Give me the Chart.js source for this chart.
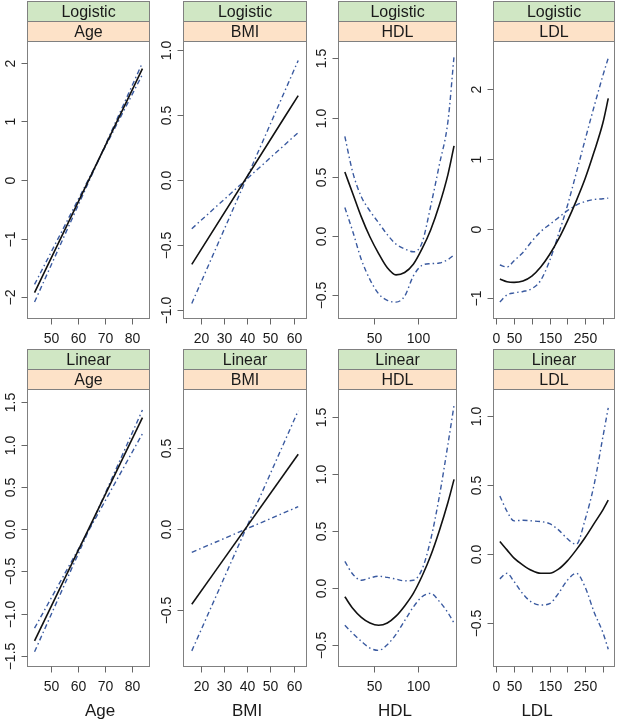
<!DOCTYPE html>
<html>
<head>
<meta charset="utf-8">
<script src="https://cdn.jsdelivr.net/npm/chart.js@4.4.1/dist/chart.umd.min.js"></script>
<style>
  body { margin: 0; background: #fff; }
  #page { position: relative; width: 619px; height: 726px; overflow: hidden; font-family: "Liberation Sans", Arial, sans-serif; }
  .panel { position: absolute; }
  .xtitle { position: absolute; top: 701px; font-size: 17px; color: #1a1a1a; transform: translateX(-50%); white-space: nowrap; }
</style>
</head>
<body>
<div id="page"></div>
<script>
// ---- data ----
const modelNames = ["Logistic", "Linear"];
const variableNames = ["Age", "BMI", "HDL", "LDL"];

const ageX = [44, 84];
const logitAgeFit = [-1.92, 1.90];
const logitAgeBandA = [-2.08, 2.00];
const logitAgeBandB = [-1.78, 1.80];
const linAgeFit = [-1.32, 1.32];
const linAgeBandA = [-1.45, 1.41];
const linAgeBandB = [-1.17, 1.13];

const bmiX = [16, 62];
const logitBmiFit = [-0.65, 0.65];
const logitBmiBandA = [-0.95, 0.92];
const logitBmiBandB = [-0.375, 0.365];
const linBmiFit = [-0.467, 0.463];
const linBmiBandA = [-0.756, 0.733];
const linBmiBandB = [-0.145, 0.138];

const hdlX = [16, 25, 35, 45, 55, 65, 75, 85, 95, 105, 115, 125, 135, 142];
const logitHdlFit = [0.54, 0.36, 0.16, -0.01, -0.15, -0.27, -0.33, -0.31, -0.24, -0.11, 0.05, 0.26, 0.52, 0.76];
const logitHdlUpper = [0.84, 0.54, 0.33, 0.21, 0.11, 0.01, -0.07, -0.11, -0.135, -0.06, 0.25, 0.60, 0.97, 1.52];
const logitHdlLower = [0.24, 0.04, -0.20, -0.37, -0.49, -0.545, -0.56, -0.51, -0.34, -0.25, -0.235, -0.23, -0.20, -0.16];
const linHdlFit = [-0.08, -0.18, -0.26, -0.31, -0.33, -0.31, -0.25, -0.16, -0.05, 0.10, 0.28, 0.50, 0.75, 0.95];
const linHdlUpper = [0.23, 0.12, 0.065, 0.085, 0.10, 0.09, 0.075, 0.06, 0.065, 0.16, 0.42, 0.80, 1.26, 1.60];
const linHdlLower = [-0.33, -0.40, -0.47, -0.53, -0.55, -0.50, -0.41, -0.29, -0.17, -0.08, -0.05, -0.12, -0.22, -0.31];

const ldlX = [10, 30, 50, 75, 100, 125, 150, 175, 200, 225, 250, 275, 300, 315];
const logitLdlFit = [-0.72, -0.76, -0.77, -0.75, -0.68, -0.55, -0.37, -0.15, 0.11, 0.40, 0.72, 1.10, 1.52, 1.87];
const logitLdlUpper = [-0.52, -0.55, -0.46, -0.34, -0.18, -0.04, 0.06, 0.16, 0.26, 0.34, 0.39, 0.42, 0.43, 0.44];
const logitLdlLower = [-1.05, -0.95, -0.92, -0.90, -0.86, -0.74, -0.46, -0.08, 0.33, 0.80, 1.28, 1.75, 2.20, 2.45];
const linLdlFit = [0.09, 0.03, -0.03, -0.08, -0.12, -0.14, -0.14, -0.11, -0.05, 0.03, 0.12, 0.22, 0.32, 0.39];
const linLdlUpper = [0.42, 0.31, 0.24, 0.245, 0.24, 0.235, 0.22, 0.175, 0.11, 0.07, 0.25, 0.50, 0.85, 1.06];
const linLdlLower = [-0.18, -0.14, -0.20, -0.29, -0.35, -0.37, -0.36, -0.285, -0.19, -0.14, -0.24, -0.42, -0.57, -0.69];

// tick values
const ageTicks = [50, 60, 70, 80];
const bmiTicks = [20, 30, 40, 50, 60];
const hdlTicks = [50, 100];
const ldlTicks = [0, 50, 100, 150, 200, 250, 300];
const ldlTickLabels = ["0", "50", "", "150", "", "250", ""];
const logitYTicks = [[-2, -1, 0, 1, 2], [-1, -0.5, 0, 0.5, 1], [-0.5, 0, 0.5, 1, 1.5], [-1, 0, 1, 2]];
const linYTicks = [[-1.5, -1, -0.5, 0, 0.5, 1, 1.5], [-0.5, 0, 0.5], [-0.5, 0, 0.5, 1, 1.5], [-0.5, 0, 0.5, 1]];

// ---- layout ----
const cols = [{ l: 27, r: 150 }, { l: 183, r: 307 }, { l: 338, r: 457 }, { l: 493, r: 615 }];
const rows = [{ top: 1, box: 41, bottom: 319 }, { top: 349, box: 389, bottom: 667 }];
const xRanges = [[41.2, 86.8], [12.2, 65.8], [8.1, 145.4], [-9.3, 334]];
const yRanges = [
  [[-2.37, 2.37], [-1.07, 1.07], [-0.703, 1.647], [-1.295, 2.694]],
  [[-1.63, 1.658], [-0.856, 0.868], [-0.696, 1.743], [-0.819, 1.196]]
];
const titleX = [100, 247, 395, 537];

const FIT = "#111111";
const BAND = "#3a5aa0";
const FONT = '"Liberation Sans", Arial, sans-serif';

function pts(xs, ys) { return xs.map((x, i) => ({ x: x, y: ys[i] })); }
function fmt(v, dec) { return v.toFixed(dec).replace("-", "\u2212"); }

const panelData = [
  [
    { xs: ageX, fit: logitAgeFit, a: logitAgeBandA, b: logitAgeBandB, xt: ageTicks },
    { xs: bmiX, fit: logitBmiFit, a: logitBmiBandA, b: logitBmiBandB, xt: bmiTicks },
    { xs: hdlX, fit: logitHdlFit, a: logitHdlUpper, b: logitHdlLower, xt: hdlTicks },
    { xs: ldlX, fit: logitLdlFit, a: logitLdlUpper, b: logitLdlLower, xt: ldlTicks, xl: ldlTickLabels }
  ],
  [
    { xs: ageX, fit: linAgeFit, a: linAgeBandA, b: linAgeBandB, xt: ageTicks },
    { xs: bmiX, fit: linBmiFit, a: linBmiBandA, b: linBmiBandB, xt: bmiTicks },
    { xs: hdlX, fit: linHdlFit, a: linHdlUpper, b: linHdlLower, xt: hdlTicks },
    { xs: ldlX, fit: linLdlFit, a: linLdlUpper, b: linLdlLower, xt: ldlTicks, xl: ldlTickLabels }
  ]
];
const yDecimals = [[0, 1, 1, 0], [1, 1, 1, 1]];

// draws strips, box, ticks and rotated y labels (lattice look)
const latticeFrame = {
  id: "latticeFrame",
  afterDraw(chart, args, o) {
    const ctx = chart.ctx;
    const a = chart.chartArea;
    const xs = chart.scales.x, ys = chart.scales.y;
    const L = Math.round(a.left) + 0.5, R = Math.round(a.right) - 0.5;
    const T = Math.round(a.top) + 0.5, B = Math.round(a.bottom) - 0.5;
    ctx.save();
    // strips
    const sh = 20;
    ctx.fillStyle = "#d0e7c4";
    ctx.fillRect(L, T - 2 * sh, R - L, sh);
    ctx.fillStyle = "#fde2c8";
    ctx.fillRect(L, T - sh, R - L, sh);
    ctx.strokeStyle = "#808080";
    ctx.lineWidth = 1;
    ctx.strokeRect(L, T - 2 * sh, R - L, sh);
    ctx.strokeRect(L, T - sh, R - L, sh);
    ctx.fillStyle = "#1a1a1a";
    ctx.font = "16px " + FONT;
    ctx.textAlign = "center";
    ctx.textBaseline = "middle";
    ctx.fillText(o.model, (L + R) / 2, T - 1.5 * sh + 1);
    ctx.fillText(o.variable, (L + R) / 2, T - 0.5 * sh + 1);
    // box
    ctx.strokeRect(L, T, R - L, B - T);
    // x ticks
    ctx.font = "14px " + FONT;
    ctx.strokeStyle = "#666";
    o.xt.forEach((v, i) => {
      const px = Math.round(xs.getPixelForValue(v)) + 0.5;
      ctx.beginPath(); ctx.moveTo(px, B); ctx.lineTo(px, B + 6); ctx.stroke();
      const lab = o.xl ? o.xl[i] : String(v);
      ctx.fillText(lab, px, B + 21);
    });
    // y ticks, labels rotated like base graphics
    o.yt.forEach(v => {
      const py = Math.round(ys.getPixelForValue(v)) + 0.5;
      ctx.beginPath(); ctx.moveTo(L - 6, py); ctx.lineTo(L, py); ctx.stroke();
      ctx.save();
      ctx.translate(L - 17, py);
      ctx.rotate(-Math.PI / 2);
      ctx.fillText(fmt(v, o.yd), 0, 1);
      ctx.restore();
    });
    ctx.restore();
  }
};

const page = document.getElementById("page");

rows.forEach((row, ri) => {
  cols.forEach((col, ci) => {
    const d = panelData[ri][ci];
    const padL = 34, padR = 4, padT = row.box - row.top, padB = 34;
    const w = (col.r - col.l) + padL + padR;
    const h = (row.bottom - row.box) + padT + padB;
    const div = document.createElement("div");
    div.className = "panel";
    div.style.left = (col.l - padL) + "px";
    div.style.top = row.top + "px";
    const canvas = document.createElement("canvas");
    canvas.width = w; canvas.height = h;
    canvas.style.width = w + "px"; canvas.style.height = h + "px";
    div.appendChild(canvas);
    page.appendChild(div);

    const line = (ys, color, width, dash) => ({
      data: pts(d.xs, ys),
      borderColor: color,
      borderWidth: width,
      borderDash: dash,
      pointRadius: 0,
      fill: false,
      cubicInterpolationMode: "monotone"
    });

    new Chart(canvas.getContext("2d"), {
      type: "line",
      data: {
        datasets: [
          line(d.fit, FIT, 1.6, []),
          line(d.a, BAND, 1.4, [5, 3, 1.5, 3]),
          line(d.b, BAND, 1.4, [5, 3, 1.5, 3])
        ]
      },
      options: {
        responsive: false,
        devicePixelRatio: 1,
        animation: false,
        layout: { padding: { left: padL, right: padR, top: padT, bottom: padB } },
        scales: {
          x: { type: "linear", display: false, min: xRanges[ci][0], max: xRanges[ci][1] },
          y: { type: "linear", display: false, min: yRanges[ri][ci][0], max: yRanges[ri][ci][1] }
        },
        plugins: {
          legend: { display: false },
          tooltip: { enabled: false },
          latticeFrame: {
            model: modelNames[ri],
            variable: variableNames[ci],
            xt: d.xt,
            xl: d.xl,
            yt: (ri === 0 ? logitYTicks : linYTicks)[ci],
            yd: yDecimals[ri][ci]
          }
        }
      },
      plugins: [latticeFrame]
    });
  });
});

variableNames.forEach((name, i) => {
  const t = document.createElement("div");
  t.className = "xtitle";
  t.style.left = titleX[i] + "px";
  t.textContent = name;
  page.appendChild(t);
});
</script>
</body>
</html>
